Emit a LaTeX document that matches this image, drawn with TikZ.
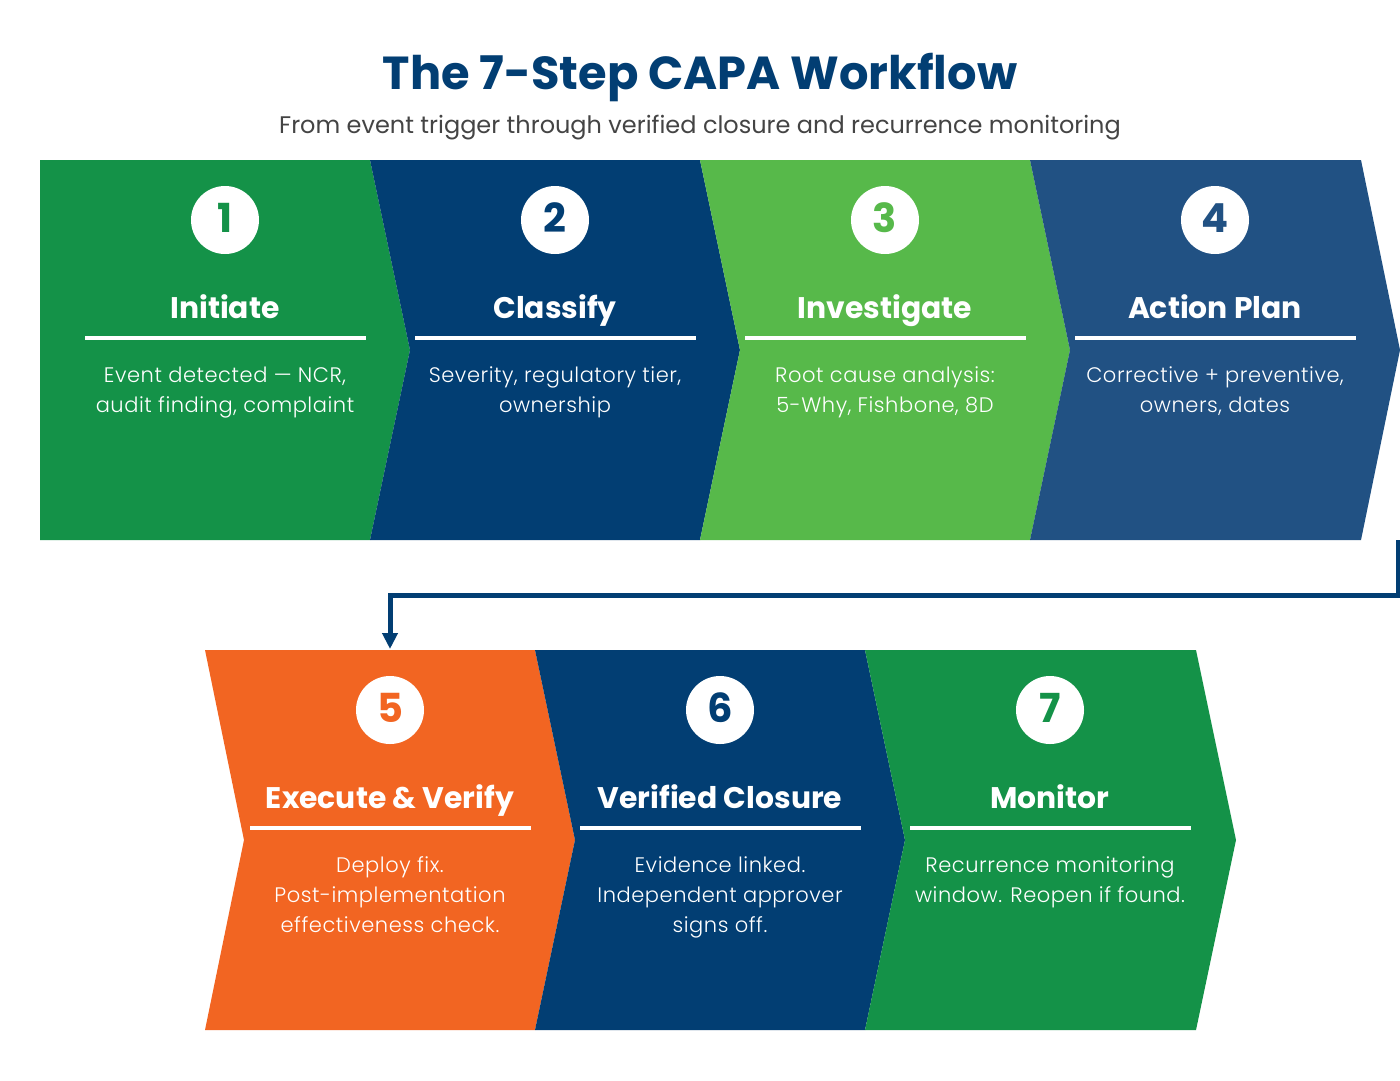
\documentclass[tikz,border=0pt]{standalone}
\usepackage{fontspec}
\setmainfont{Poppins}[UprightFont=* Light, BoldFont=* Bold, LetterSpace=2.6]
\newfontfamily\popreg{Poppins}
\newfontfamily\popbold{Poppins Bold}
\usetikzlibrary{arrows.meta,calc}
\definecolor{cgreen}{HTML}{149248}
\definecolor{cnavy}{HTML}{023E73}
\definecolor{clgreen}{HTML}{57B94A}
\definecolor{cblue}{HTML}{215183}
\definecolor{corange}{HTML}{F26522}
\definecolor{cgray}{HTML}{444444}
\tikzset{
  chev/.style={fill=#1, draw=none},
  numcirc/.style={circle, fill=white, minimum size=68pt, inner sep=0pt},
  numtxt/.style={text=#1, font=\popbold\fontsize{40}{40}\selectfont, anchor=base, inner sep=0pt},
  stitle/.style={text=white, font=\popbold\fontsize{29.8}{29.8}\selectfont, anchor=base, inner sep=0pt},
  sline/.style={draw=white, line width=3.5pt},
  sdesc/.style={text=white, font=\fontsize{21}{30}\selectfont, anchor=base, inner sep=0pt},
  conn/.style={draw=cnavy, line width=5pt, line join=miter, -{Triangle[width=15pt,length=16pt]}}
}
% #1 id, #2 cx, #3 ytop, #4 color, #5 number, #6 title, #7 description lines
\newcommand{\capastep}[7]{%
  \node[numcirc] (n#1) at (#2,#3+60) {};
  \node[numtxt=#4] (nt#1) at (#2,#3+72) {#5};
  \node[stitle] (t#1) at (#2,#3+158) {#6};
  \coordinate (la#1) at (#2-140,#3+178);
  \coordinate (lb#1) at (#2+141,#3+178);
  \draw[sline] (la#1) -- (lb#1);
  \foreach \ln [count=\k] in {#7} {
    \node[sdesc] (d#1-\k) at (#2,#3+192+30*\k) {\ln};
  }
}
\begin{document}
\begin{tikzpicture}[x=1pt,y=-1pt]
\useasboundingbox (0,0) rectangle (1400,1080);
\fill[white] (0,0) rectangle (1400,1080);
% title
\node[text=cnavy, font=\popbold\fontsize{46.3}{46.3}\selectfont, anchor=base, inner sep=0pt] (title) at (700,89) {The 7-Step CAPA Workflow};
\node[text=cgray, font=\popreg\fontsize{24}{24}\selectfont, anchor=base, inner sep=0pt] (subtitle) at (700,133) {From event trigger through verified closure and recurrence monitoring};
% top row chevrons
\fill[chev=cgreen] (40,160) -- (370,160) -- (410,350) -- (370,540) -- (40,540) -- cycle;
\fill[chev=cnavy] (370,160) -- (700,160) -- (740,350) -- (700,540) -- (370,540) -- (410,350) -- cycle;
\fill[chev=clgreen] (700,160) -- (1030,160) -- (1070,350) -- (1030,540) -- (700,540) -- (740,350) -- cycle;
\fill[chev=cblue] (1030,160) -- (1361,160) -- (1400,350) -- (1361,540) -- (1030,540) -- (1070,350) -- cycle;
% bottom row chevrons
\fill[chev=corange] (205,650) -- (535,650) -- (575,840) -- (535,1030) -- (205,1030) -- (244,840) -- cycle;
\fill[chev=cnavy] (535,650) -- (865,650) -- (905,840) -- (865,1030) -- (535,1030) -- (575,840) -- cycle;
\fill[chev=cgreen] (865,650) -- (1196,650) -- (1236,840) -- (1196,1030) -- (865,1030) -- (905,840) -- cycle;
% steps
\capastep{1}{225}{160}{cgreen}{1}{Initiate}{{Event detected — NCR,},{audit finding, complaint}}
\capastep{2}{555}{160}{cnavy}{2}{Classify}{{Severity, regulatory tier,},{ownership}}
\capastep{3}{885}{160}{clgreen}{3}{Investigate}{{Root cause analysis:},{5-Why, Fishbone, 8D}}
\capastep{4}{1215}{160}{cblue}{4}{Action Plan}{{Corrective + preventive,},{owners, dates}}
\capastep{5}{390}{650}{corange}{5}{Execute \& Verify}{{Deploy fix.},{Post-implementation},{effectiveness check.}}
\capastep{6}{720}{650}{cnavy}{6}{Verified Closure}{{Evidence linked.},{Independent approver},{signs off.}}
\capastep{7}{1050}{650}{cgreen}{7}{Monitor}{{Recurrence monitoring},{window. Reopen if found.}}
% connector
\coordinate (c4) at (1398,540);
\coordinate (c5) at (390,649);
\draw[conn] (c4) -- ++(0,55) -| (c5);
\end{tikzpicture}
\end{document}
